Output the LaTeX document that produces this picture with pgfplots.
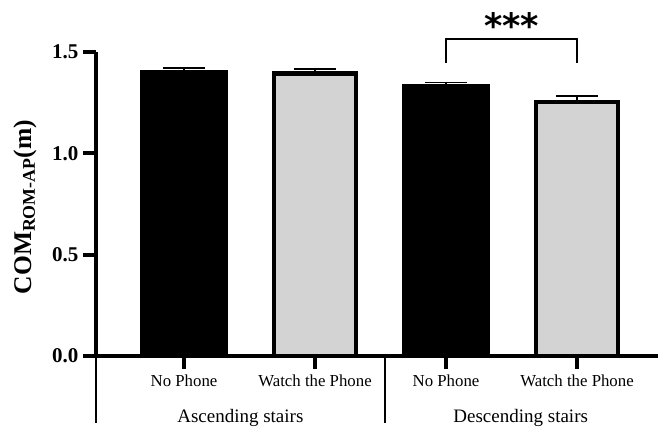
\documentclass[border=0pt]{standalone}
\usepackage{pgfplots}
\pgfplotsset{compat=1.18}
\usepackage{fontspec}
\setmainfont{Liberation Serif}
\newfontfamily\starfont{DejaVu Sans}
\definecolor{barGray}{RGB}{211,211,211}
\begin{document}
\begin{tikzpicture}
\begin{axis}[
  name=ax,
  scale only axis, width=562pt, height=304pt,
  xmin=-0.672, xmax=3.618, ymin=0, ymax=1.5,
  axis x line=bottom, axis y line=left,
  axis line style={-, line width=4pt, black},
  ytick={0,0.5,1,1.5},
  xtick={0,1,2,3},
  xticklabels={No Phone, Watch the Phone, No Phone, Watch the Phone},
  tick align=outside, major tick length=13pt,
  every tick/.style={black, line width=4pt},
  /pgf/number format/assume math mode=true,
  /pgf/number format/.cd, fixed, fixed zerofill, precision=1, /pgfplots/.cd,
  yticklabel style={font=\bfseries\fontsize{21}{22}\selectfont, xshift=-1pt},
  xticklabel style={font=\fontsize{16.8}{17}\selectfont, yshift=-2pt},
  ylabel={\textbf{COM\textsubscript{ROM-AP}(m)}},
  every axis y label/.style={at={(axis description cs:0,0.49)}, rotate=90, anchor=center, yshift=71pt,
    font=\fontsize{25.5}{26}\selectfont},
  clip=false,
]
\addplot[ybar, bar shift=0pt, bar width=87pt, fill=black, draw=black, line width=0.5pt,
  error bars/.cd, y dir=plus, y explicit,
  error bar style={line width=1.5pt, black},
  error mark options={rotate=90, mark size=21pt, line width=1.5pt, black}]
  coordinates {(0,1.409) +- (0,0.012) (2,1.339) +- (0,0.010)};
\addplot[ybar, bar shift=0pt, bar width=82pt, fill=barGray, draw=black, line width=4.5pt,
  error bars/.cd, y dir=plus, y explicit,
  error bar style={line width=1.5pt, black},
  error mark options={rotate=90, mark size=21pt, line width=1.5pt, black}]
  coordinates {(1,1.395) +- (0,0.022) (3,1.253) +- (0,0.030)};
% significance bracket
\draw[line width=2.8pt] (axis cs:2,1.445) -- (axis cs:2,1.564) -- (axis cs:3,1.564) -- (axis cs:3,1.445);
\node[font=\starfont\bfseries\fontsize{35}{35}\selectfont, anchor=north, inner sep=0pt] at (axis cs:2.5,1.695) {***};
% group lines
\draw[line width=2.5pt] ([yshift=-2pt]axis cs:-0.672,0) -- ([yshift=-67pt]axis cs:-0.672,0);
\draw[line width=2.5pt] ([yshift=-2pt]axis cs:1.534,0) -- ([yshift=-67pt]axis cs:1.534,0);
\node[font=\fontsize{19}{20}\selectfont] at ([yshift=-62pt]axis cs:0.43,0) {Ascending stairs};
\node[font=\fontsize{19}{20}\selectfont] at ([yshift=-62pt]axis cs:2.57,0) {Descending stairs};
\end{axis}
\pgfresetboundingbox
\path[use as bounding box] (-96pt,-76pt) rectangle (562pt,356pt);
\end{tikzpicture}
\end{document}
